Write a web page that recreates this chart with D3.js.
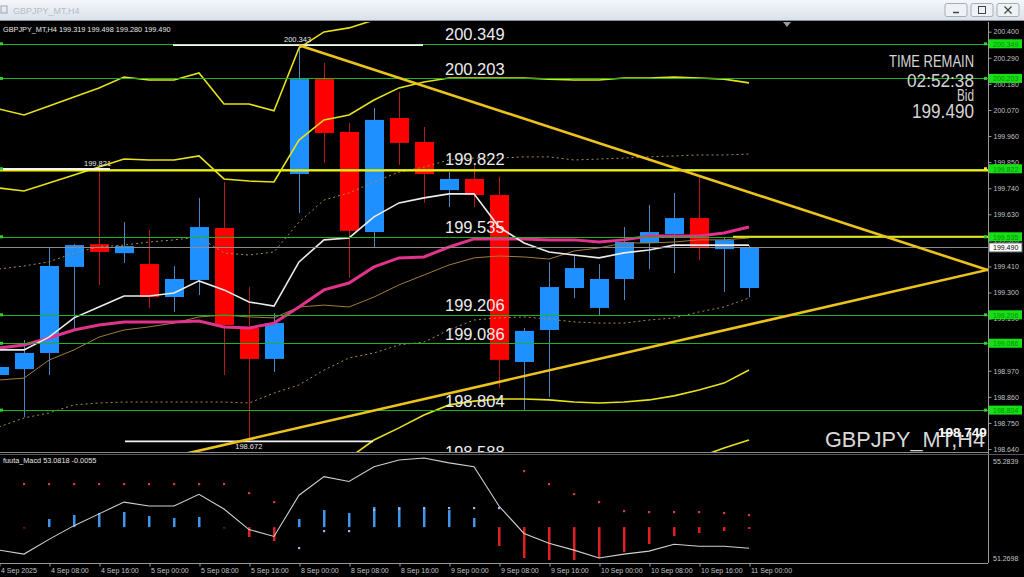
<!DOCTYPE html>
<html><head><meta charset="utf-8">
<script src="https://cdn.jsdelivr.net/npm/d3@7"></script>
<style>
html,body{margin:0;padding:0;background:#000;overflow:hidden}
svg{display:block;font-family:"Liberation Sans",Arial,sans-serif}
</style></head><body>
<svg id="chart" width="1024" height="577"></svg>
<script>
// ---------- DATA ----------
const symbolTitle = "GBPJPY_MT,H4";
const headerText = "GBPJPY_MT,H4  199.319 199.498 199.280 199.490";
const macdTitle = "fuuta_Macd 53.0818   -0.0055";
const candleIdx = d3.range(-1, 30); // H4 bars, -1 = 4 Sep 00:00
const open  = [198.952,198.977,199.045,199.408,199.504,199.466,199.420,199.281,199.353,199.572,199.150,199.020,199.800,200.200,199.977,199.555,200.036,199.935,199.732,199.779,199.711,199.007,199.142,199.319,199.235,199.357,199.509,199.546,199.614,199.483,199.319];
const high  = [198.994,199.100,199.492,199.504,199.825,199.597,199.564,199.412,199.699,199.766,199.323,199.213,200.343,200.268,200.015,200.078,200.145,199.998,199.808,199.838,199.787,199.150,199.428,199.458,199.420,199.576,199.669,199.720,199.795,199.534,199.498];
const low   = [198.939,198.775,198.952,199.142,199.332,199.424,199.235,199.218,199.289,198.952,198.672,198.965,199.635,199.846,199.361,199.492,199.838,199.678,199.660,199.660,198.898,198.805,198.860,199.277,199.205,199.268,199.399,199.382,199.437,199.302,199.280];
const close = [198.986,199.045,199.412,199.500,199.471,199.496,199.281,199.357,199.576,199.163,199.020,199.171,200.200,199.973,199.560,200.028,199.931,199.800,199.779,199.711,199.016,199.138,199.323,199.403,199.357,199.513,199.555,199.614,199.488,199.521,199.490];

const maFast   = [199.058,199.058,199.112,199.193,199.239,199.285,199.285,199.298,199.349,199.311,199.260,199.243,199.429,199.522,199.530,199.619,199.678,199.699,199.716,199.716,199.576,199.509,199.471,199.458,199.446,199.467,199.479,199.500,199.500,199.500,199.500];
const maMid    = [199.066,199.079,199.108,199.142,199.163,199.176,199.176,199.176,199.180,199.155,199.150,199.171,199.239,199.311,199.340,199.408,199.446,199.450,199.492,199.526,199.526,199.526,199.522,199.522,199.513,199.522,199.538,199.538,199.538,199.551,199.576];
const maSlow   = [198.931,198.939,199.015,199.058,199.112,199.142,199.155,199.171,199.197,199.205,199.197,199.193,199.239,199.247,199.239,199.281,199.332,199.374,199.416,199.446,199.454,199.450,199.441,199.475,199.488,199.509,199.509,199.513,199.522,199.522,199.530];
const envUpper = [199.399,199.412,199.429,199.467,199.492,199.500,199.513,199.522,199.534,199.467,199.458,199.471,199.597,199.690,199.720,199.766,199.808,199.829,199.859,199.867,199.867,199.872,199.872,199.859,199.863,199.867,199.872,199.876,199.880,199.880,199.884];
const envLower = [198.733,198.771,198.792,198.826,198.834,198.838,198.838,198.838,198.838,198.838,198.834,198.876,198.910,198.973,199.024,199.045,199.079,199.091,199.142,199.184,199.193,199.197,199.188,199.176,199.171,199.171,199.184,199.193,199.218,199.239,199.277];
const bandUp1  = [199.741,199.728,199.762,199.796,199.829,199.863,199.859,199.859,199.876,199.779,199.770,199.766,199.943,200.028,200.049,200.112,200.163,200.188,200.205,200.205,200.205,200.205,200.200,200.196,200.196,200.205,200.205,200.209,200.205,200.200,200.184];
const bandUp2  = [200.074,200.049,200.087,200.125,200.163,200.209,200.196,200.196,200.226,200.095,200.095,200.066,200.331,200.399,200.416,200.449,200.470,200.480,200.490,200.490,200.480,200.470,200.460,200.460,200.460,200.460,200.460,200.460,200.460,200.460,200.460];
const bandLo1  = [198.400,198.380,198.360,198.360,198.380,198.400,198.420,198.440,198.440,198.460,198.480,198.500,198.520,198.550,198.602,198.678,198.729,198.783,198.826,198.842,198.851,198.851,198.847,198.838,198.834,198.838,198.847,198.864,198.889,198.918,198.973];
const bandLo2  = [198.100,198.080,198.060,198.060,198.080,198.100,198.120,198.140,198.140,198.160,198.180,198.200,198.230,198.260,198.300,198.340,198.380,198.400,198.420,198.440,198.460,198.470,198.480,198.490,198.500,198.510,198.530,198.560,198.606,198.644,198.678];

const priceTicks = [200.400,200.290,200.180,200.070,199.960,199.850,199.740,199.630,199.520,199.410,199.300,199.190,199.080,198.970,198.860,198.750,198.640];
const timeTickIdx = [-1,1,3,5,7,9,11,13,15,17,19,21,23,25,27,29];
const timeLabels = ["4 Sep 2025","4 Sep 08:00","4 Sep 16:00","5 Sep 00:00","5 Sep 08:00","5 Sep 16:00","8 Sep 00:00","8 Sep 08:00","8 Sep 16:00","9 Sep 00:00","9 Sep 08:00","9 Sep 16:00","10 Sep 00:00","10 Sep 08:00","10 Sep 16:00","11 Sep 00:00"];

const levelValues = [200.349,200.203,199.822,199.535,199.206,199.086,198.804,198.588];
const tagValues   = [200.349,200.203,199.822,199.535,199.206,199.086,198.804];
const yellowLevel = 199.815;
const yellowLevel2 = {v:199.535, from:28.36, to:40};
const bidPrice = 199.490;
const markLevels = [ {v:200.343, from:5.96, to:15.96, label:"200.343", at:10.4, below:false},
                     {v:199.821, from:-1.2, to:3.44, label:"199.821", at:2.4, below:false},
                     {v:198.672, from:4.04, to:13.96, label:"198.672", at:8.45, below:true} ];
const trendDown = [[11, 200.343],[38.6, 199.393]];
const trendUp   = [[6, 198.609],[38.6, 199.397]];

const macdLine = [51.585,51.427,52.018,52.569,53.041,53.513,53.356,53.356,53.828,53.238,52.411,52.136,53.789,54.536,54.339,54.930,55.205,55.2839,55.087,54.930,53.356,52.254,51.860,51.585,51.2698,51.427,51.545,51.821,51.742,51.742,51.663];
const histBase = 52.51;
const macdHist = [null,52.51,52.835,52.996,53.076,53.116,52.956,52.875,52.915,52.51,52.113,51.952,52.835,53.196,53.076,53.317,53.317,53.277,53.196,52.875,51.751,51.270,51.189,51.189,51.270,51.510,51.831,52.153,52.273,52.353,52.434];
const signalDots = [null,54.240,54.240,54.240,54.240,54.240,54.240,54.240,54.240,54.240,53.879,53.518,51.671,52.353,52.353,53.200,53.250,53.280,53.277,53.277,53.277,54.762,54.240,53.839,53.518,53.156,53.116,53.116,53.116,53.076,52.996];
const signalDir  = [0,-1,-1,-1,-1,-1,-1,-1,-1,-1,-1,-1,1,1,1,1,1,1,1,1,1,-1,-1,-1,-1,-1,-1,-1,-1,-1,-1];
const macdScale = [51.2698, 55.2839];
const timeRemain = ["TIME REMAIN","02:52:38","Bid","199.490"];
const bigLabel = "GBPJPY_MT,H4";
const overLabel = "198.749";

// ---------- LAYOUT ----------
const svg = d3.select("#chart");
const W = 1024, H = 577, axisX = 988;
const mainTop = 22, mainBot = 452, macdTop = 455, macdBot = 563;
const x = d3.scaleLinear().domain([0, 29]).range([24, 749]);
const y = d3.scaleLinear().domain([198.640, 200.400]).range([449, 31.7]);
const ym = d3.scaleLinear().domain(macdScale).range([558, 458]);

svg.append("rect").attr("width",W).attr("height",H).attr("fill","#000");

const defs = svg.append("defs");
defs.append("clipPath").attr("id","cm").append("rect").attr("x",0).attr("y",mainTop).attr("width",axisX).attr("height",mainBot-mainTop);
defs.append("clipPath").attr("id","cd").append("rect").attr("x",0).attr("y",macdTop).attr("width",axisX).attr("height",macdBot-macdTop);
const grad = defs.append("linearGradient").attr("id","tb").attr("x1",0).attr("x2",0).attr("y1",0).attr("y2",1);
grad.append("stop").attr("offset","0").attr("stop-color","#f4f7fa");
grad.append("stop").attr("offset","1").attr("stop-color","#d9e0e8");

// title bar
svg.append("rect").attr("x",0).attr("y",0).attr("width",W).attr("height",21).attr("fill","url(#tb)");
svg.append("line").attr("x1",0).attr("x2",W).attr("y1",20.5).attr("y2",20.5).attr("stroke","#8a9098");
svg.append("rect").attr("x",1).attr("y",6).attr("width",6).attr("height",7).attr("fill","none").attr("stroke","#9aa6b4");
svg.append("text").attr("x",13).attr("y",13.5).attr("font-size",9).attr("fill","#b4bcc6").text(symbolTitle);
[[945,"min"],[971,"max"],[997,"close"]].forEach(([bx,k])=>{
  svg.append("rect").attr("x",bx).attr("y",3.5).attr("width",22).attr("height",13).attr("rx",2)
     .attr("fill","#eef1f5").attr("stroke","#a7adb5");
  if(k==="min") svg.append("line").attr("x1",bx+8).attr("x2",bx+14).attr("y1",12.5).attr("y2",12.5).attr("stroke","#444").attr("stroke-width",1.5);
  if(k==="max") svg.append("rect").attr("x",bx+7.5).attr("y",6.5).attr("width",7).attr("height",7).attr("fill","none").attr("stroke","#444");
  if(k==="close"){ svg.append("path").attr("d",`M${bx+7.5},6.5L${bx+14.5},13.5M${bx+14.5},6.5L${bx+7.5},13.5`).attr("stroke","#444").attr("stroke-width",1.3);}
});

// ---------- MAIN PANEL ----------
const gm = svg.append("g").attr("clip-path","url(#cm)");
const lineOf = arr => d3.line().defined(d=>d!=null).x((d,i)=>x(candleIdx[i])).y(d=>y(d))(arr);

// candles
const candles = candleIdx.map((t,i)=>({t,o:open[i],h:high[i],l:low[i],c:close[i]}));
gm.selectAll(".wick").data(candles).join("line")
  .attr("x1",d=>x(d.t)+0.5).attr("x2",d=>x(d.t)+0.5)
  .attr("y1",d=>y(d.h)).attr("y2",d=>y(d.l))
  .attr("stroke",d=>d.c>=d.o?"#4a86c8":"#b81818").attr("stroke-width",1);
gm.selectAll(".body").data(candles).join("rect")
  .attr("x",d=>x(d.t)-9).attr("width",19)
  .attr("y",d=>y(Math.max(d.o,d.c))).attr("height",d=>Math.max(1,Math.abs(y(d.o)-y(d.c))))
  .attr("fill",d=>d.c>=d.o?"#1e90ff":"#ff0000");

// indicators
gm.append("path").attr("d",lineOf(envUpper)).attr("fill","none").attr("stroke","#a88a55").attr("stroke-width",1).attr("stroke-dasharray","2,3");
gm.append("path").attr("d",lineOf(envLower)).attr("fill","none").attr("stroke","#a88a55").attr("stroke-width",1).attr("stroke-dasharray","2,3");
[bandUp1,bandUp2,bandLo1,bandLo2].forEach(b=>gm.append("path").attr("d",lineOf(b)).attr("fill","none").attr("stroke","#e6e21a").attr("stroke-width",1.6));
gm.append("path").attr("d",lineOf(maSlow)).attr("fill","none").attr("stroke","#a07c3c").attr("stroke-width",1);
gm.append("path").attr("d",lineOf(maMid)).attr("fill","none").attr("stroke","#e0338c").attr("stroke-width",3);
gm.append("path").attr("d",lineOf(maFast)).attr("fill","none").attr("stroke","#ececec").attr("stroke-width",1.6);

// level lines
gm.selectAll(".lvl").data(levelValues).join("line")
  .attr("x1",0).attr("x2",axisX).attr("y1",d=>Math.round(y(d))+0.5).attr("y2",d=>Math.round(y(d))+0.5)
  .attr("stroke","#1fb41f").attr("stroke-width",1);
gm.append("line").attr("x1",0).attr("x2",axisX).attr("y1",y(yellowLevel)).attr("y2",y(yellowLevel)).attr("stroke","#f2ee10").attr("stroke-width",2.2);
gm.append("line").attr("x1",x(yellowLevel2.from)).attr("x2",x(yellowLevel2.to)).attr("y1",y(yellowLevel2.v)).attr("y2",y(yellowLevel2.v)).attr("stroke","#e6e21a").attr("stroke-width",2);
gm.append("line").attr("x1",0).attr("x2",axisX).attr("y1",Math.round(y(bidPrice))+0.5).attr("y2",Math.round(y(bidPrice))+0.5).attr("stroke","#8c8c8c").attr("stroke-width",1);
markLevels.forEach(m=>{
  gm.append("line").attr("x1",x(m.from)).attr("x2",x(m.to)).attr("y1",y(m.v)).attr("y2",y(m.v)).attr("stroke","#f4f4f4").attr("stroke-width",1.8);
  gm.append("text").attr("x",x(m.at)).attr("y",y(m.v)+(m.below?8:-3)).attr("font-size",7.5).attr("fill","#e8e8e8").text(m.label);
});
gm.selectAll(".ldot").data(levelValues).join("rect").attr("x",0).attr("y",d=>y(d)-1.5).attr("width",3).attr("height",3).attr("fill","#2fd02f");

// trend lines
[trendDown,trendUp].forEach(t=>gm.append("line").attr("x1",x(t[0][0])).attr("y1",y(t[0][1])).attr("x2",x(t[1][0])).attr("y2",y(t[1][1]))
  .attr("stroke","#ecc21c").attr("stroke-width",2.6));

// level texts
gm.selectAll(".lvt").data(levelValues).join("text")
  .attr("x",445).attr("y",d=>y(d)-3.5).attr("font-size",16.5).attr("fill","#ececec").text(d=>d.toFixed(3));

// header
gm.append("text").attr("x",3).attr("y",32).attr("font-size",7.3).attr("fill","#e6e6e6").text(headerText);

// time remain block
const tr = gm.append("g").attr("fill","#d4d4d4").attr("text-anchor","end");
tr.append("text").attr("x",974).attr("y",67).attr("font-size",16).attr("textLength",85).attr("lengthAdjust","spacingAndGlyphs").text(timeRemain[0]);
tr.append("text").attr("x",974).attr("y",86.5).attr("font-size",18.5).attr("textLength",67).attr("lengthAdjust","spacingAndGlyphs").text(timeRemain[1]);
tr.append("text").attr("x",974).attr("y",100.5).attr("font-size",16).attr("textLength",17).attr("lengthAdjust","spacingAndGlyphs").text(timeRemain[2]);
tr.append("text").attr("x",974).attr("y",117.5).attr("font-size",19.5).attr("textLength",62).attr("lengthAdjust","spacingAndGlyphs").text(timeRemain[3]);

// big symbol label
gm.append("text").attr("x",825).attr("y",447).attr("font-size",22).attr("fill","#d8d8d8").attr("textLength",160).attr("lengthAdjust","spacingAndGlyphs").text(bigLabel);
gm.append("text").attr("x",938).attr("y",437).attr("font-size",13.5).attr("font-weight","bold").attr("fill","#ffffff").text(overLabel);

// chart shift marker
svg.append("path").attr("d","M783,22L791,22L787,27Z").attr("fill","#9a9a9a");

// ---------- PRICE AXIS ----------
const allTags = tagValues.concat([bidPrice]);
const shownTicks = priceTicks.filter(v=>!allTags.some(t=>Math.abs(y(t)-y(v))<2.5));
const ax = svg.append("g").attr("transform",`translate(${axisX+0.5},0)`)
  .call(d3.axisRight(y).tickValues(shownTicks).tickSize(3).tickFormat(d3.format(".3f")));
ax.select(".domain").remove();
ax.selectAll("line").attr("stroke","#9a9a9a");
ax.selectAll("text").attr("fill","#c4c4c4").attr("font-size",7).attr("font-family","Liberation Sans").attr("x",5);
svg.append("line").attr("x1",axisX+0.5).attr("x2",axisX+0.5).attr("y1",mainTop).attr("y2",macdBot).attr("stroke","#9a9a9a");

// tags
const tags = svg.append("g");
tagValues.forEach(v=>{
  tags.append("rect").attr("x",axisX+1).attr("y",y(v)-4.5).attr("width",33).attr("height",9).attr("fill","#14e014");
  tags.append("text").attr("x",axisX+5).attr("y",y(v)+2.8).attr("font-size",7).attr("fill","#0b8f0b").text(v.toFixed(3));
  tags.append("rect").attr("x",axisX-4).attr("y",y(v)-1.5).attr("width",3).attr("height",3).attr("fill",v===199.822?"#f2ee10":"#2fd02f");
});
tags.append("rect").attr("x",axisX+1).attr("y",y(bidPrice)-4.5).attr("width",33).attr("height",9).attr("fill","#ffffff").attr("stroke","#666");
tags.append("text").attr("x",axisX+5).attr("y",y(bidPrice)+2.8).attr("font-size",7).attr("fill","#000").text(bidPrice.toFixed(3));

// separators
svg.append("line").attr("x1",0).attr("x2",axisX).attr("y1",452.5).attr("y2",452.5).attr("stroke","#8a8a8a");
svg.append("line").attr("x1",0).attr("x2",W).attr("y1",454.5).attr("y2",454.5).attr("stroke","#5a5a5a");

// ---------- MACD PANEL ----------
const gd = svg.append("g").attr("clip-path","url(#cd)");
const bars = candleIdx.map((t,i)=>({t,v:macdHist[i]})).filter(d=>d.v!=null);
gd.selectAll(".hb").data(bars).join("rect")
  .attr("x",d=>x(d.t)-1).attr("width",2.5)
  .attr("y",d=>Math.min(ym(d.v),ym(histBase))).attr("height",d=>Math.max(1.5,Math.abs(ym(d.v)-ym(histBase))))
  .attr("fill",d=>d.v>histBase?"#3f95ea":(d.v<histBase?"#e02020":"#7a1010"));
gd.append("path").attr("d",d3.line().x((d,i)=>x(candleIdx[i])).y(d=>ym(d))(macdLine)).attr("fill","none").attr("stroke","#cfcfcf").attr("stroke-width",1.1);
const dots = candleIdx.map((t,i)=>({t,v:signalDots[i],s:signalDir[i]})).filter(d=>d.v!=null);
gd.selectAll(".sd").data(dots).join("rect")
  .attr("x",d=>x(d.t)-1).attr("y",d=>ym(d.v)-1).attr("width",2.2).attr("height",2.2)
  .attr("fill",d=>d.s<0?"#d83a3a":"#9fb7dc");
svg.append("text").attr("x",3).attr("y",463).attr("font-size",7.3).attr("fill","#e6e6e6").text(macdTitle);
svg.append("text").attr("x",993).attr("y",463.5).attr("font-size",7).attr("fill","#c4c4c4").text(macdScale[1].toFixed(4));
svg.append("text").attr("x",993).attr("y",560.5).attr("font-size",7).attr("fill","#c4c4c4").text(macdScale[0].toFixed(4));
svg.append("line").attr("x1",0).attr("x2",axisX).attr("y1",macdBot+0.5).attr("y2",macdBot+0.5).attr("stroke","#9a9a9a");

// ---------- TIME AXIS ----------
const tx = svg.append("g").attr("transform",`translate(0.5,${macdBot+0.5})`)
  .call(d3.axisBottom(x).tickValues(timeTickIdx).tickSize(3).tickFormat((d,i)=>timeLabels[i]));
tx.select(".domain").remove();
tx.selectAll("line").attr("stroke","#9a9a9a");
tx.selectAll("text").attr("fill","#c4c4c4").attr("font-size",7).attr("font-family","Liberation Sans")
  .attr("text-anchor","start").attr("x",1).attr("y",5).attr("dy","0.71em");
</script>
</body></html>
